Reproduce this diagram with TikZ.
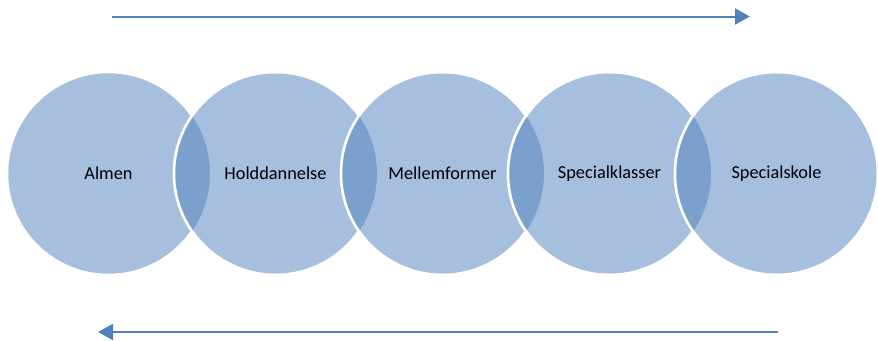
\documentclass[tikz,border=0pt]{standalone}
\usepackage{fontspec}
\setmainfont{Carlito}
\usepackage{tikz}
\usetikzlibrary{arrows.meta, calc}
\definecolor{ring-color}{HTML}{A7BFDE}
\definecolor{lens-color}{HTML}{7BA0CD}
\definecolor{arrow-color}{HTML}{4F81BD}
\tikzset{
    ring/.style = {circle, minimum size=203pt, inner sep=0pt,
        fill=ring-color, draw=white, line width=2.5pt,
        font=\fontsize{18.3}{21}\selectfont},
    flow/.style = {draw=arrow-color, line width=2pt,
        -{Triangle[length=15pt, width=16pt]}},
}

\begin{document}
\begin{tikzpicture}[x=1pt, y=-1pt]
    \useasboundingbox (0,0) rectangle (878,340);

    \foreach \name [count=\i] in {Almen, Holddannelse, Mellemformer, Specialklasser, Specialskole}{
        \node[ring] (c\i) at ({108.5+167*(\i-1)},173.5) {\name};
        \ifnum\i>1
            \pgfmathtruncatemacro{\prev}{\i-1}
            % overlap with the previous circle
            \begin{scope}
                \clip (c\prev.center) circle (101.5pt);
                \fill[lens-color] (c\i.center) circle (101.5pt);
            \end{scope}
            \draw[white, line width=2.5pt] (c\i.center) circle (101.5pt);
        \fi
    }

    \coordinate (top-start) at (112,16.5);
    \coordinate (top-end)   at (750,16.5);
    \coordinate (bot-start) at (778,332);
    \coordinate (bot-end)   at (98,332);

    \draw[flow] (top-start) -- (top-end);
    \draw[flow] (bot-start) -- (bot-end);
\end{tikzpicture}
\end{document}
